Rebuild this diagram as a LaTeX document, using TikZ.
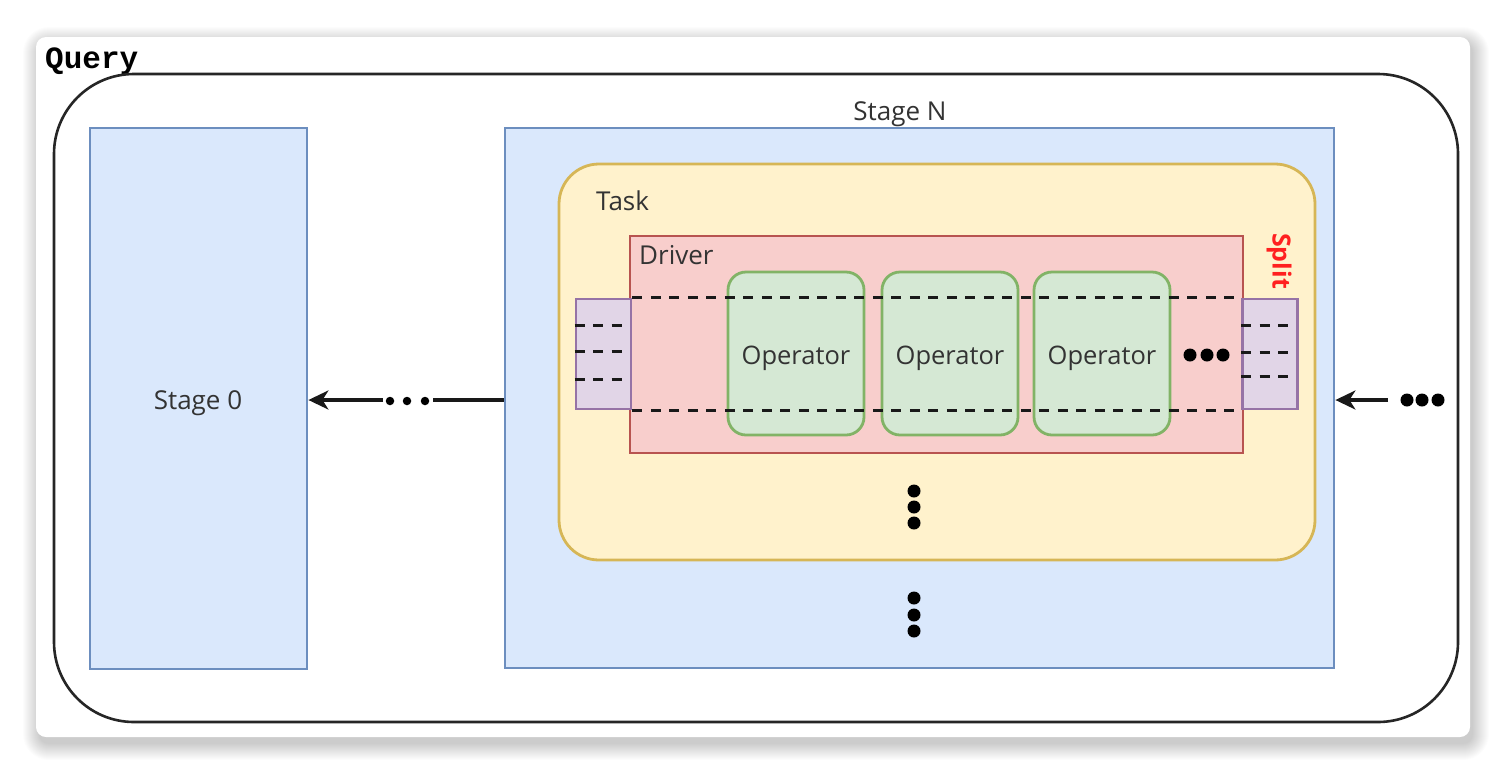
\documentclass[tikz,border=0pt]{standalone}
\usepackage{fontspec}
\setmainfont{Open Sans}
\newfontfamily\qfont{Liberation Mono}
\usetikzlibrary{arrows.meta}
\definecolor{bluef}{HTML}{DAE8FC}\definecolor{blued}{HTML}{6C8EBF}
\definecolor{yelf}{HTML}{FFF2CC}\definecolor{yeld}{HTML}{D6B656}
\definecolor{redf}{HTML}{F8CECC}\definecolor{redd}{HTML}{B85450}
\definecolor{grnf}{HTML}{D5E8D4}\definecolor{grnd}{HTML}{82B366}
\definecolor{purf}{HTML}{E1D5E7}\definecolor{purd}{HTML}{9673A6}
\definecolor{txt}{HTML}{333333}
\definecolor{splitred}{HTML}{FF2020}
\tikzset{
  box/.style={draw, line width=2.8pt, inner sep=0pt},
  bluebox/.style={box, fill=bluef, draw=blued},
  taskbox/.style={box, fill=yelf, draw=yeld, rounded corners=40pt},
  drvbox/.style={box, fill=redf, draw=redd},
  opbox/.style={box, fill=grnf, draw=grnd, rounded corners=18pt, minimum width=136pt, minimum height=163pt},
  optext/.style={text=txt, font=\fontsize{25.5}{28}\selectfont, inner sep=0pt},
  purbox/.style={box, fill=purf, draw=purd, minimum width=55pt, minimum height=110pt},
  dashline/.style={line width=3.4pt, dash pattern=on 10pt off 8.5pt, black!90},
  lbl/.style={text=txt, font=\fontsize{26}{30}\selectfont, inner sep=0pt},
  arr/.style={line width=3.2pt, black!90},
  dot/.style={fill=black, circle, inner sep=0pt, minimum size=13pt},
  sdot/.style={fill=black, circle, inner sep=0pt, minimum size=8.5pt},
}
\begin{document}
\begin{tikzpicture}[x=1pt,y=-1pt]
\useasboundingbox (0,0) rectangle (1506,772);
\fill[white] (0,0) rectangle (1506,772);
\foreach \i in {0,...,16}{
  \fill[black, opacity=0.012, rounded corners={10pt+\i pt}] (36-\i+3,37-\i+6) rectangle (1470+\i+3,737+\i+7);
}
\fill[white, rounded corners=10pt] (36,37) rectangle (1470,737);
\node[anchor=base west, inner sep=0pt, font=\qfont\bfseries\fontsize{31}{33}\selectfont] (query) at (45,68) {Query};
\draw[line width=2.6pt, draw=black!85, rounded corners=80pt] (54,74) rectangle (1458,722);
\node[bluebox, minimum width=217pt, minimum height=541pt] (stage0) at (198.5,398.5) {};
\node[lbl, anchor=base] (s0lbl) at (198,409) {Stage 0};
\node[bluebox, minimum width=829pt, minimum height=540pt] (stageN) at (919.5,398) {};
\node[lbl, anchor=base] (snlbl) at (900,120) {Stage N};
\node[taskbox, minimum width=756pt, minimum height=396pt] (task) at (937,362) {};
\node[lbl, anchor=base west] (tasklbl) at (596,210) {Task};
\node[drvbox, minimum width=613pt, minimum height=217pt] (driver) at (936.5,344.5) {};
\node[lbl, anchor=base west] (drvlbl) at (639,264) {Driver};
\node[opbox] (op1) at (796,353.5) {};
\node[opbox] (op2) at (950,353.5) {};
\node[opbox] (op3) at (1102,353.5) {};
\node[optext, anchor=base] (op1t) at (796,364) {Operator};
\node[optext, anchor=base] (op2t) at (950,364) {Operator};
\node[optext, anchor=base] (op3t) at (1102,364) {Operator};
\node[purbox] (pl) at (603.5,354) {};
\node[purbox] (pr) at (1270,354) {};
\draw[dashline] (pl.north east) -- (pr.north west);
\draw[dashline] (pl.south east) -- (pr.south west);
\draw[dashline] (pl.north west) ++(0,28) -- ++(55,0);
\draw[dashline] (pl.north west) ++(0,54) -- ++(55,0);
\draw[dashline] (pl.north west) ++(0,82) -- ++(55,0);
\draw[dashline] (pr.north west) ++(0,28) -- ++(55,0);
\draw[dashline] (pr.north west) ++(0,55) -- ++(55,0);
\draw[dashline] (pr.north west) ++(0,79) -- ++(55,0);
\node[text=splitred, font=\bfseries\fontsize{25}{28}\selectfont, rotate=-90, inner sep=0pt] (split) at (1279,261) {Split};
% dots in driver
\node[dot] (d1) at (1190,355) {};
\node[dot] (d2) at (1207,355) {};
\node[dot] (d3) at (1223,355) {};
% vertical dots
\node[dot] (v1) at (914,491) {};
\node[dot] (v2) at (914,507) {};
\node[dot] (v3) at (914,523) {};
\node[dot] (w1) at (914,598) {};
\node[dot] (w2) at (914,615) {};
\node[dot] (w3) at (914,631) {};
% left arrow
\coordinate (la) at (433,400);
\coordinate (lb) at (383,400);
\draw[arr] (stageN.west |- la) -- (la);
\node[sdot] (e1) at (390,401) {};
\node[sdot] (e2) at (407,401) {};
\node[sdot] (e3) at (425,401) {};
\draw[arr, -{Stealth[length=20pt,width=19pt,inset=6pt]}] (lb) -- (stage0.east |- lb);
% right arrow
\coordinate (ra) at (1388,400);
\draw[arr, -{Stealth[length=20pt,width=19pt,inset=6pt]}] (ra) -- (stageN.east |- ra);
\node[dot] (r1) at (1407,400) {};
\node[dot] (r2) at (1422,400) {};
\node[dot] (r3) at (1438,400) {};
\end{tikzpicture}
\end{document}
